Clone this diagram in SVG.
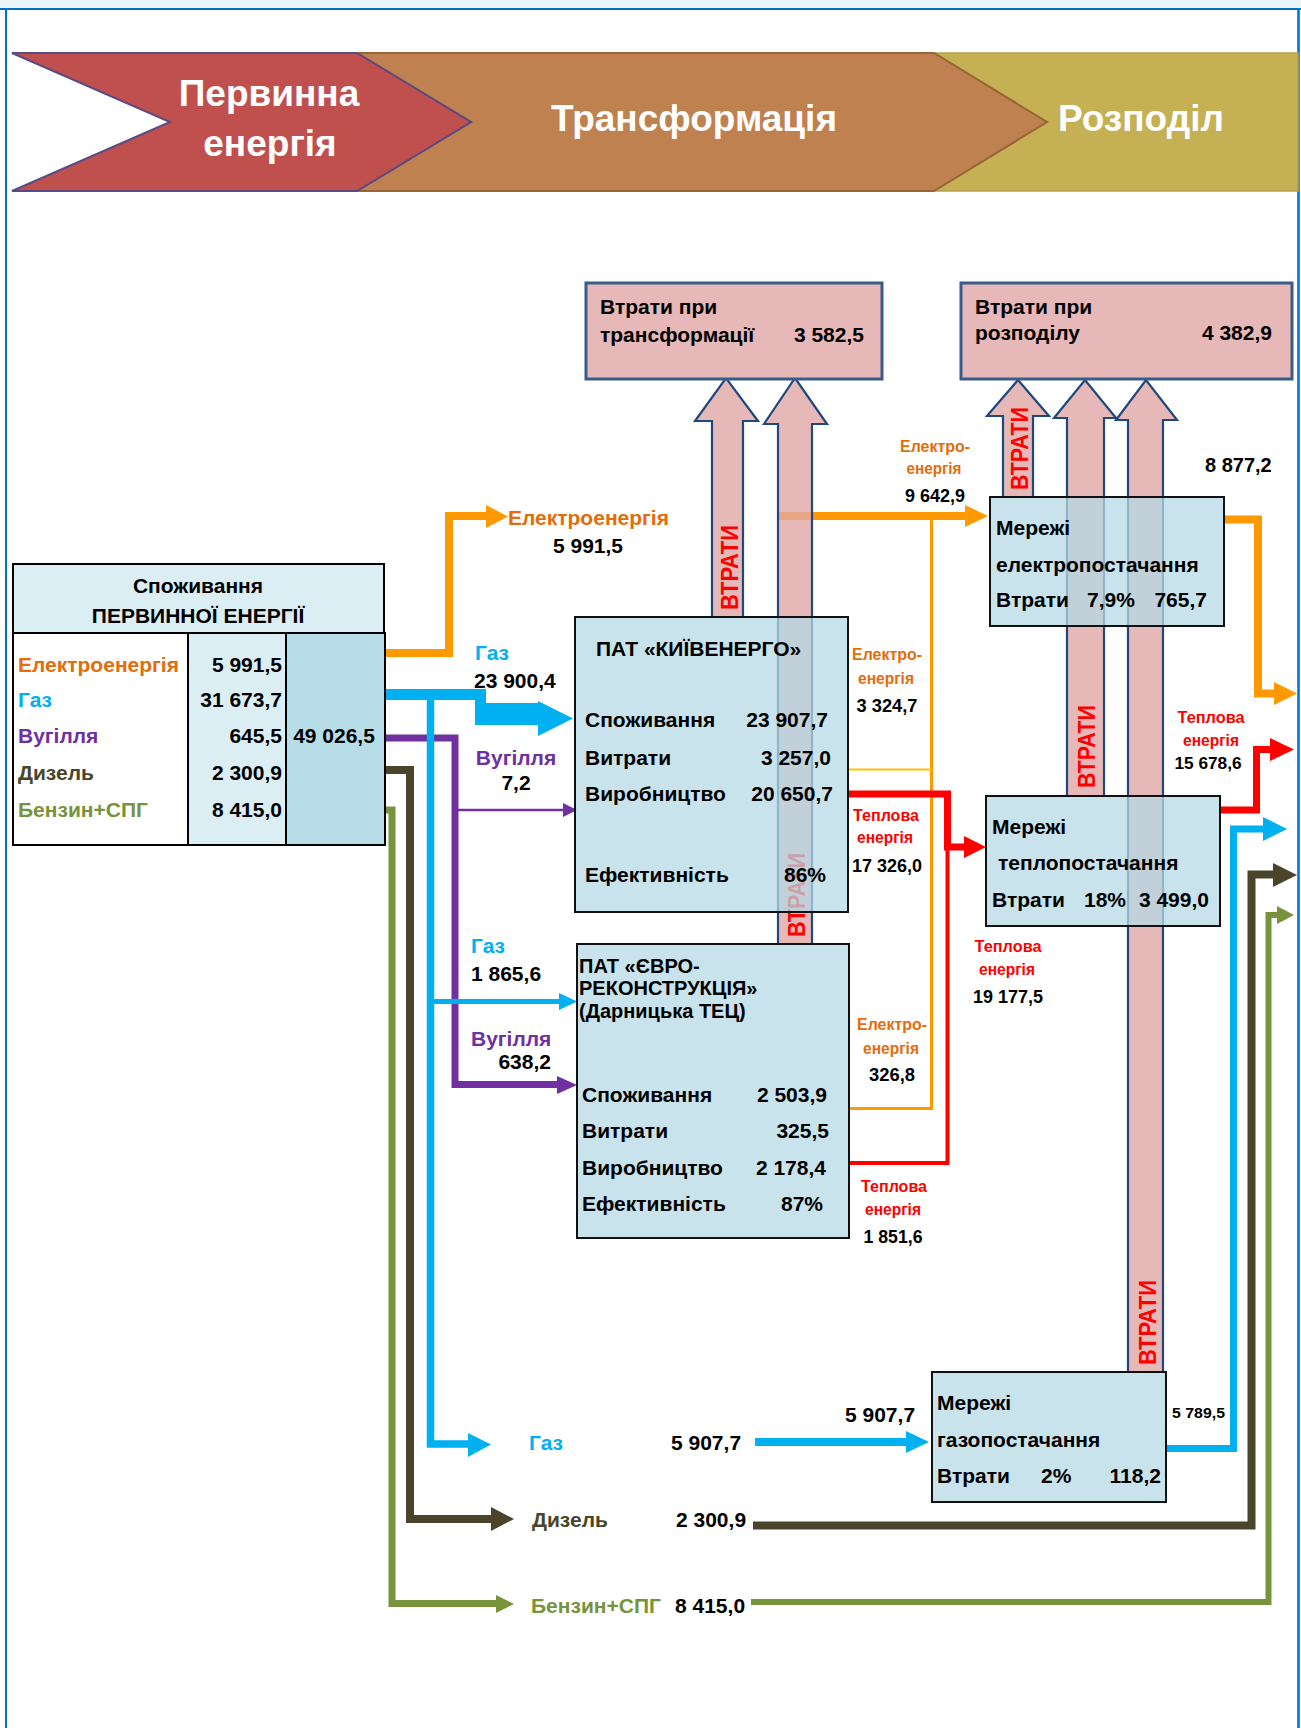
<svg xmlns="http://www.w3.org/2000/svg" width="1301" height="1728" viewBox="0 0 1301 1728">
<style>
text{font-family:"Liberation Sans",Arial,sans-serif;font-weight:bold;}
.f21{font-size:21px}
.f20{font-size:20px}
.f19{font-size:19px}
.f17{font-size:17px}
.hd{font-size:37px;fill:#fff}
.k{fill:#000}
.or{fill:#E46C0A}
.rd{fill:#FF0000}
.bl{fill:#00B0F0}
.pu{fill:#7030A0}
.di{fill:#4A452A}
.gr{fill:#77933C}
.ln{fill:none;stroke-linejoin:miter;stroke-linecap:butt}
.box{fill:#B6DAE4;fill-opacity:0.75;stroke:#111;stroke-width:2}
.loss{fill:#E6B8B7;stroke:#385D8A;stroke-width:3}
.la{fill:#E0A8A6;fill-opacity:0.8;stroke:#1F497D;stroke-width:2.2;stroke-linejoin:miter}
.vt{font-size:23px;fill:#FF0000}
.end{text-anchor:end}
.mid{text-anchor:middle}
</style>

<g id="frame">
<rect x="0" y="0" width="1301" height="8" fill="#EAF5F9"/>
<line x1="0" y1="9" x2="1301" y2="9" stroke="#0070C0" stroke-width="2"/>
<line x1="6" y1="9" x2="6" y2="1728" stroke="#0070C0" stroke-width="2"/>
<line x1="1298.5" y1="9" x2="1298.5" y2="1728" stroke="#0070C0" stroke-width="2.5"/>
</g>

<g id="stages">
<polygon points="1298,53 934,53 1047,122 934,191 1298,191" fill="#C5B054" stroke="#B8A04E" stroke-width="1.5"/>
<polygon points="357,53 934,53 1047,122 934,191 357,191 471,122" fill="#BF8150" stroke="#976537" stroke-width="2"/>
<polygon points="12,53 357,53 471,122 357,191 12,191 170,122" fill="#C0504D" stroke="#5B4A83" stroke-width="2"/>
<text class="hd mid" x="269" y="106">Первинна</text>
<text class="hd mid" x="270" y="156">енергія</text>
<text class="hd mid" x="694" y="131">Трансформація</text>
<text class="hd mid" x="1141" y="131">Розподіл</text>
</g>

<g id="connectors">
<!-- primary electricity -->
<path class="ln" d="M385,653 H449 V516 H487" stroke="#FF9900" stroke-width="8"/>
<polygon points="486,505 508,516.5 486,528" fill="#FF9900"/>
<!-- coal -->
<path class="ln" d="M385,738 H455 V1084.5 H558" stroke="#7030A0" stroke-width="7"/>
<polygon points="557,1076 577,1085 557,1094" fill="#7030A0"/>
<path class="ln" d="M455,810 H565" stroke="#7030A0" stroke-width="2.5"/>
<polygon points="563,803 577,810 563,817" fill="#7030A0"/>
<!-- diesel -->
<path class="ln" d="M385,770 H410 V1519 H492" stroke="#4A452A" stroke-width="8"/>
<polygon points="491,1507 514,1519 491,1531" fill="#4A452A"/>
<!-- petrol -->
<path class="ln" d="M385,810 H392 V1603.5 H498" stroke="#77933C" stroke-width="7"/>
<polygon points="496,1595 514,1604 496,1613" fill="#77933C"/>
<!-- gas -->
<polygon points="385,689 486,689 486,703 538,703 538,701 573,718.5 538,736 538,725 475,725 475,700 385,700" fill="#00B0F0"/>
<path class="ln" d="M430.5,694 V1444 H470" stroke="#00B0F0" stroke-width="7.5"/>
<polygon points="468,1433 491,1444.5 468,1457" fill="#00B0F0"/>
<path class="ln" d="M430.5,1001.5 H560" stroke="#00B0F0" stroke-width="5"/>
<polygon points="559,993 577,1001.5 559,1010" fill="#00B0F0"/>
<!-- electricity to grid -->
<path class="ln" d="M777,516 H966" stroke="#FF9900" stroke-width="8"/>
<polygon points="965,505 988,516 965,527" fill="#FF9900"/>
<path class="ln" d="M931.5,516 V1108.5 H849" stroke="#FF9900" stroke-width="3"/>
<path class="ln" d="M848,769.5 H931.5" stroke="#FFC000" stroke-width="2"/>
<!-- heat to grid -->
<path class="ln" d="M849,1163 H947.5 V847" stroke="#FF0000" stroke-width="4"/>
<path class="ln" d="M848,794 H947.5 V847 H965" stroke="#FF0000" stroke-width="7"/>
<polygon points="964,836 986,847 964,858" fill="#FF0000"/>
<!-- gas to grid -->
<path class="ln" d="M755,1442 H907" stroke="#00B0F0" stroke-width="8"/>
<polygon points="906,1431 929,1442 906,1453" fill="#00B0F0"/>
<!-- outputs -->
<path class="ln" d="M1224,519.5 H1258 V693.5 H1275" stroke="#FF9900" stroke-width="8"/>
<polygon points="1274,682 1297,693.5 1274,705" fill="#FF9900"/>
<path class="ln" d="M1220,810 H1256.5 V749.5 H1271" stroke="#FF0000" stroke-width="7"/>
<polygon points="1270,738 1294,749.5 1270,761" fill="#FF0000"/>
<path class="ln" d="M1166,1448.5 H1233.5 V829 H1264" stroke="#00B0F0" stroke-width="7"/>
<polygon points="1263,817 1287,829 1263,841" fill="#00B0F0"/>
<path class="ln" d="M753,1525.5 H1251.5 V874.5 H1274" stroke="#4A452A" stroke-width="8"/>
<polygon points="1273,863 1297,875 1273,887" fill="#4A452A"/>
<path class="ln" d="M751,1602 H1268.5 V915 H1278" stroke="#77933C" stroke-width="6"/>
<polygon points="1277,906 1294,915 1277,924" fill="#77933C"/>
<!-- loss arrows -->
<polygon class="la" points="712,617 712,421 695,421 726,378 758,421 743,421 743,617"/>
<text class="vt" transform="translate(738,610) rotate(-90)" textLength="85" lengthAdjust="spacingAndGlyphs">ВТРАТИ</text>
<polygon class="la" points="778,944 778,424 764,424 795,378 827,424 812,424 812,944"/>
<text class="vt" transform="translate(805,937) rotate(-90)" textLength="84" lengthAdjust="spacingAndGlyphs">ВТРАТИ</text>
<polygon class="la" points="1003,497 1003,416 987,416 1018,380 1049,416 1033,416 1033,497"/>
<text class="vt" transform="translate(1028,490) rotate(-90)" textLength="83" lengthAdjust="spacingAndGlyphs">ВТРАТИ</text>
<polygon class="la" points="1067,796 1067,418 1054,418 1085,380 1116,418 1104,418 1104,796"/>
<text class="vt" transform="translate(1095,788) rotate(-90)" textLength="83" lengthAdjust="spacingAndGlyphs">ВТРАТИ</text>
<polygon class="la" points="1128,1372 1128,420 1116,420 1146,380 1177,420 1163,420 1163,1372"/>
<text class="vt" transform="translate(1156,1365) rotate(-90)" textLength="85" lengthAdjust="spacingAndGlyphs">ВТРАТИ</text>
</g>

<g id="flow-labels">
<text class="f21 or" x="508" y="525">Електроенергія</text>
<text class="f21 k mid" x="588" y="553">5 991,5</text>
<text class="f21 bl" x="475" y="660">Газ</text>
<text class="f21 k" x="474" y="688">23 900,4</text>
<text class="f21 pu mid" x="516" y="765">Вугілля</text>
<text class="f21 k mid" x="516" y="790">7,2</text>
<text class="f21 bl" x="471" y="953">Газ</text>
<text class="f21 k" x="471" y="981">1 865,6</text>
<text class="f21 pu" x="471" y="1046">Вугілля</text>
<text class="f21 k end" x="551" y="1069">638,2</text>

<text class="f17 or mid" x="887" y="660" textLength="70" lengthAdjust="spacingAndGlyphs">Електро-</text>
<text class="f17 or mid" x="886" y="684" textLength="56" lengthAdjust="spacingAndGlyphs">енергія</text>
<text class="f19 k mid" x="887" y="712" textLength="61" lengthAdjust="spacingAndGlyphs">3 324,7</text>
<text class="f17 rd mid" x="886" y="821" textLength="66" lengthAdjust="spacingAndGlyphs">Теплова</text>
<text class="f17 rd mid" x="885" y="843" textLength="56" lengthAdjust="spacingAndGlyphs">енергія</text>
<text class="f19 k mid" x="887" y="872" textLength="70" lengthAdjust="spacingAndGlyphs">17 326,0</text>
<text class="f17 or mid" x="892" y="1030" textLength="70" lengthAdjust="spacingAndGlyphs">Електро-</text>
<text class="f17 or mid" x="891" y="1054" textLength="56" lengthAdjust="spacingAndGlyphs">енергія</text>
<text class="f19 k mid" x="892" y="1081" textLength="46" lengthAdjust="spacingAndGlyphs">326,8</text>
<text class="f17 rd mid" x="894" y="1192" textLength="66" lengthAdjust="spacingAndGlyphs">Теплова</text>
<text class="f17 rd mid" x="893" y="1215" textLength="56" lengthAdjust="spacingAndGlyphs">енергія</text>
<text class="f19 k mid" x="893" y="1243" textLength="59" lengthAdjust="spacingAndGlyphs">1 851,6</text>
<text class="f17 rd mid" x="1008" y="952" textLength="67" lengthAdjust="spacingAndGlyphs">Теплова</text>
<text class="f17 rd mid" x="1007" y="975" textLength="56" lengthAdjust="spacingAndGlyphs">енергія</text>
<text class="f19 k mid" x="1008" y="1003" textLength="70" lengthAdjust="spacingAndGlyphs">19 177,5</text>
<text class="f17 or mid" x="935" y="452" textLength="70" lengthAdjust="spacingAndGlyphs">Електро-</text>
<text class="f17 or mid" x="934" y="474" textLength="55" lengthAdjust="spacingAndGlyphs">енергія</text>
<text class="f19 k mid" x="935" y="502" textLength="60" lengthAdjust="spacingAndGlyphs">9 642,9</text>
<text class="f17 rd mid" x="1211" y="723" textLength="67" lengthAdjust="spacingAndGlyphs">Теплова</text>
<text class="f17 rd mid" x="1211" y="746" textLength="56" lengthAdjust="spacingAndGlyphs">енергія</text>
<text class="f17 k mid" x="1208" y="769" textLength="67" lengthAdjust="spacingAndGlyphs">15 678,6</text>
<text class="f20 k" x="1205" y="472">8 877,2</text>
<text class="k" style="font-size:15px" x="1172" y="1418" textLength="53" lengthAdjust="spacingAndGlyphs">5 789,5</text>

<text class="f21 bl" x="529" y="1450">Газ</text>
<text class="f21 k" x="671" y="1450">5 907,7</text>
<text class="f21 k" x="845" y="1422">5 907,7</text>
<text class="f21 di" x="532" y="1527">Дизель</text>
<text class="f21 k" x="676" y="1527">2 300,9</text>
<text class="f21 gr" x="531" y="1613">Бензин+СПГ</text>
<text class="f21 k" x="675" y="1613">8 415,0</text>
</g>

<g id="primary-consumption">
<rect x="13" y="564" width="371" height="69" fill="#DAEEF3" stroke="#000" stroke-width="2"/>
<rect x="13" y="633" width="372" height="212" fill="#fff" stroke="#000" stroke-width="2"/>
<rect x="188" y="633" width="98" height="212" fill="#DAEEF3" stroke="#000" stroke-width="2"/>
<rect x="286" y="633" width="99" height="212" fill="#B7DDE8" stroke="#000" stroke-width="2"/>
<text class="f21 k mid" x="198" y="593">Споживання</text>
<text class="f21 k mid" x="198" y="623">ПЕРВИННОЇ ЕНЕРГІЇ</text>
<text class="f21 or" x="18" y="672">Електроенергія</text>
<text class="f21 bl" x="18" y="707">Газ</text>
<text class="f21 pu" x="18" y="743">Вугілля</text>
<text class="f21 di" x="18" y="780">Дизель</text>
<text class="f21 gr" x="18" y="817">Бензин+СПГ</text>
<text class="f21 k end" x="282" y="672">5 991,5</text>
<text class="f21 k end" x="282" y="707">31 673,7</text>
<text class="f21 k end" x="282" y="743">645,5</text>
<text class="f21 k end" x="282" y="780">2 300,9</text>
<text class="f21 k end" x="282" y="817">8 415,0</text>
<text class="f21 k mid" x="334" y="743">49 026,5</text>
</g>

<g id="kyivenergo">
<rect class="box" x="575" y="617" width="273" height="295"/>
<text class="f21 k" x="596" y="656">ПАТ «КИЇВЕНЕРГО»</text>
<text class="f21 k" x="585" y="727">Споживання</text>
<text class="f21 k end" x="828" y="727">23 907,7</text>
<text class="f21 k" x="585" y="765">Витрати</text>
<text class="f21 k end" x="831" y="765">3 257,0</text>
<text class="f21 k" x="585" y="801">Виробництво</text>
<text class="f21 k end" x="833" y="801">20 650,7</text>
<text class="f21 k" x="585" y="882">Ефективність</text>
<text class="f21 k end" x="826" y="882">86%</text>
</g>

<g id="evrorekonstruktsiya">
<rect class="box" x="577" y="944" width="272" height="294"/>
<text class="f20 k" x="579" y="973">ПАТ «ЄВРО-</text>
<text class="f20 k" x="579" y="995">РЕКОНСТРУКЦІЯ»</text>
<text class="f20 k" x="579" y="1018">(Дарницька ТЕЦ)</text>
<text class="f21 k" x="582" y="1102">Споживання</text>
<text class="f21 k end" x="827" y="1102">2 503,9</text>
<text class="f21 k" x="582" y="1138">Витрати</text>
<text class="f21 k end" x="829" y="1138">325,5</text>
<text class="f21 k" x="582" y="1175">Виробництво</text>
<text class="f21 k end" x="826" y="1175">2 178,4</text>
<text class="f21 k" x="582" y="1211">Ефективність</text>
<text class="f21 k end" x="823" y="1211">87%</text>
</g>

<g id="transformation-losses">
<rect class="loss" x="586" y="283" width="296" height="96"/>
<text class="f21 k" x="600" y="314">Втрати при</text>
<text class="f21 k" x="600" y="342">трансформації</text>
<text class="f21 k end" x="864" y="342">3 582,5</text>
</g>

<g id="distribution-losses">
<rect class="loss" x="961" y="283" width="331" height="96"/>
<text class="f21 k" x="975" y="314">Втрати при</text>
<text class="f21 k" x="975" y="340">розподілу</text>
<text class="f21 k end" x="1272" y="340">4 382,9</text>
</g>

<g id="power-grid">
<rect class="box" x="990" y="497" width="234" height="129"/>
<text class="f21 k" x="996" y="535">Мережі</text>
<text class="f21 k" x="996" y="572">електропостачання</text>
<text class="f21 k" x="996" y="607">Втрати</text>
<text class="f21 k" x="1087" y="607">7,9%</text>
<text class="f21 k end" x="1207" y="607">765,7</text>
</g>

<g id="heat-grid">
<rect class="box" x="986" y="796" width="234" height="130"/>
<text class="f21 k" x="992" y="834">Мережі</text>
<text class="f21 k" x="998" y="870">теплопостачання</text>
<text class="f21 k" x="992" y="907">Втрати</text>
<text class="f21 k" x="1084" y="907">18%</text>
<text class="f21 k end" x="1209" y="907">3 499,0</text>
</g>

<g id="gas-grid">
<rect class="box" x="932" y="1372" width="234" height="130"/>
<text class="f21 k" x="937" y="1410">Мережі</text>
<text class="f21 k" x="937" y="1447">газопостачання</text>
<text class="f21 k" x="937" y="1483">Втрати</text>
<text class="f21 k" x="1041" y="1483">2%</text>
<text class="f21 k end" x="1161" y="1483">118,2</text>
</g>
</svg>
